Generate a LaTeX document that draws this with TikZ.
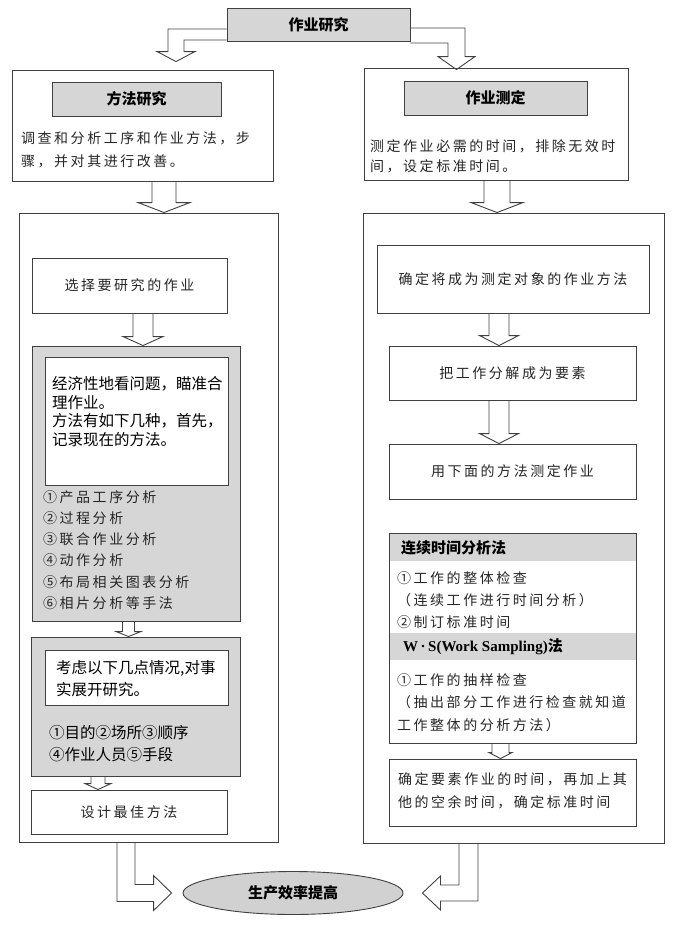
\documentclass[tikz,border=0pt]{standalone}
\usepackage{fontspec}
\newfontfamily\cjk{Noto Sans CJK SC}
\newfontfamily\cjksp[LetterSpace=18]{Noto Sans CJK SC}
\newfontfamily\lser{Liberation Serif}
\usetikzlibrary{calc,shapes.geometric}

% hollow block arrow straight down: from, to, shaft half width, head half width, head length
\newcommand{\blkdown}[5]{%
  \draw[blk] let \p1=(#1), \p2=(#2) in
    (\x2-#3,\y1) -- (\x2-#3,\y2+#5) -- (\x2-#4,\y2+#5) -- (\x2,\y2)
    -- (\x2+#4,\y2+#5) -- (\x2+#3,\y2+#5) -- (\x2+#3,\y1);
}

\begin{document}
\begin{tikzpicture}[x=1pt, y=-1pt,
    box/.style={draw=black!75, line width=0.9pt, fill=white, inner sep=0pt},
    graybox/.style={box, fill=black!16},
    hdtxt/.style={font=\cjk\bfseries\fontsize{15}{18}\selectfont},
    sptxt/.style={font=\cjksp\fontsize{14}{18}\selectfont, inner sep=0pt, text=black!85},
    bdtxt/.style={font=\cjk\fontsize{15.5}{18}\selectfont, inner sep=0pt},
    blk/.style={draw=black!75, line width=0.9pt}]

    \useasboundingbox (0,0) rectangle (680,935);

    % Top
    \node[graybox, hdtxt, minimum width=183pt, minimum height=33pt] (top) at (318.5,24.5) {作业研究};

    % Method study
    \node[box, minimum width=261pt, minimum height=111pt] (boxL1) at (142.5,125.5) {};
    \node[graybox, hdtxt, minimum width=169pt, minimum height=34pt] (hdL) at (136.5,99) {方法研究};
    \node[sptxt, anchor=west] (tL1) at (21,138) {调查和分析工序和作业方法，步};
    \node[sptxt, anchor=west] (tL2) at (21,161) {骤，并对其进行改善。};

    % Work measurement
    \node[box, minimum width=264pt, minimum height=112pt] (boxR1) at (496,124) {};
    \node[graybox, hdtxt, minimum width=183pt, minimum height=34pt] (hdR) at (495.5,98) {作业测定};
    \node[sptxt, anchor=west] (tR1) at (370,146) {测定作业必需的时间，排除无效时};
    \node[sptxt, anchor=west] (tR2) at (370,166) {间，设定标准时间。};

    % Big frames
    \node[box, fill=none, minimum width=259pt, minimum height=629pt] (boxL2) at (148.5,527.5) {};
    \node[box, fill=none, minimum width=301pt, minimum height=630pt] (boxR2) at (513.5,528) {};

    % Left column steps
    \node[box, sptxt, minimum width=195pt, minimum height=55pt] (selL) at (129.5,285.5) {选择要研究的作业};
    \node[graybox, minimum width=208pt, minimum height=275pt] (grayL1) at (136,483.5) {};
    \node[box, minimum width=183pt, minimum height=128pt] (inL1) at (136.5,421) {};
    \foreach \t [count=\i] in {经济性地看问题，瞄准合, 理作业。, 方法有如下几种，首先，, 记录现在的方法。}
        \node[bdtxt, anchor=west] (eco\i) at (52,{384+18.4*(\i-1)}) {\t};
    \foreach \t [count=\i] in {①产品工序分析, ②过程分析, ③联合作业分析, ④动作分析, ⑤布局相关图表分析, ⑥相片分析等手法}
        \node[sptxt, anchor=west] (anL\i) at (43,{497+21.2*(\i-1)}) {\t};

    \node[graybox, minimum width=209pt, minimum height=139pt] (grayL2) at (135.5,706.5) {};
    \node[box, minimum width=183pt, minimum height=55pt] (inL2) at (136.5,677.5) {};
    \node[bdtxt, anchor=west] (fac1) at (56,668) {考虑以下几点情况,对事};
    \node[bdtxt, anchor=west] (fac2) at (56,690) {实展开研究。};
    \node[bdtxt, anchor=west] (pt1) at (49,733) {①目的②场所③顺序};
    \node[bdtxt, anchor=west] (pt2) at (49,755) {④作业人员⑤手段};
    \node[box, sptxt, minimum width=196pt, minimum height=44pt] (desL) at (129,812) {设计最佳方法};

    % Right column steps
    \node[box, sptxt, minimum width=272pt, minimum height=68pt] (detR) at (513,279) {确定将成为测定对象的作业方法};
    \node[box, sptxt, minimum width=247pt, minimum height=54pt] (decR) at (512.5,373) {把工作分解成为要素};
    \node[box, sptxt, minimum width=247pt, minimum height=55pt] (useR) at (512.5,471.5) {用下面的方法测定作业};

    \node[fill=black!16, minimum width=247pt, minimum height=28pt, inner sep=0pt] (bandA) at (512.5,547) {};
    \node[fill=black!16, minimum width=247pt, minimum height=27pt, inner sep=0pt] (bandB) at (512.5,646.5) {};
    \node[box, fill=none, minimum width=247pt, minimum height=210pt] (methR) at (512.5,638) {};
    \node[hdtxt, anchor=west, inner sep=0pt] (contR) at (401,548) {连续时间分析法};
    \foreach \t/\yy [count=\i] in {①工作的整体检查/578, （连续工作进行时间分析）/600, ②制订标准时间/622}
        \node[sptxt, anchor=west] (conR\i) at (397,\yy) {\t};
    \node[anchor=west, inner sep=0pt, font=\lser\bfseries\fontsize{15}{18}\selectfont] (wsR) at (403,647) {W\,·\,S(Work Sampling){\cjk 法}};
    \foreach \t/\yy [count=\i] in {①工作的抽样检查/680, （抽出部分工作进行检查就知道/702, 工作整体的分析方法）/725}
        \node[sptxt, anchor=west] (wsR\i) at (397,\yy) {\t};

    \node[box, minimum width=247pt, minimum height=67pt] (finR) at (512.5,792.5) {};
    \node[sptxt, anchor=west] (fin1) at (398,779) {确定要素作业的时间，再加上其};
    \node[sptxt, anchor=west] (fin2) at (398,802) {他的空余时间，确定标准时间};

    % Result
    \node[ellipse, draw=black!75, line width=0.9pt, fill=black!18, minimum width=220pt, minimum height=43pt, inner sep=0pt, hdtxt] (goal) at (293,893) {生产效率提高};

    % Elbow arrows from the top box
    \draw[blk] let \p1=([yshift=-10pt]top.west), \p2=([xshift=33.5pt,yshift=8pt]boxL1.north) in
        (\x1,\y1+5.5pt) -- (\x2-8pt,\y1+5.5pt) -- (\x2-8pt,\y2+10pt) -- (\x2-19pt,\y2+10pt) -- (\x2,\y2)
        -- (\x2+19pt,\y2+10pt) -- (\x2+8pt,\y2+10pt) -- (\x2+8pt,\y1-5.5pt) -- (\x1,\y1-5.5pt);
    \draw[blk] let \p1=([yshift=-11pt]top.east), \p2=([xshift=-39.5pt,yshift=-2pt]boxR1.north) in
        (\x1,\y1+7.5pt) -- (\x2+8.5pt,\y1+7.5pt) -- (\x2+8.5pt,\y2+13pt) -- (\x2+18.5pt,\y2+13pt) -- (\x2,\y2)
        -- (\x2-18.5pt,\y2+13pt) -- (\x2-8.5pt,\y2+13pt) -- (\x2-8.5pt,\y1-7.5pt) -- (\x1,\y1-7.5pt);

    % Straight arrows
    \blkdown{[xshift=21.5pt]boxL1.south}{[xshift=15.5pt]boxL2.north}{12pt}{26pt}{10pt}
    \blkdown{[xshift=1pt]boxR1.south}{[xshift=-16.5pt]boxR2.north}{13pt}{26pt}{10pt}
    \blkdown{[xshift=13.5pt]selL.south}{[xshift=7pt]grayL1.north}{10pt}{20pt}{9pt}
    \blkdown{[xshift=-7.5pt]grayL1.south}{[xshift=-7pt]grayL2.north}{6pt}{12.5pt}{5pt}
    \blkdown{[xshift=-37.5pt]grayL2.south}{[xshift=-31pt]desL.north}{7pt}{13pt}{6pt}
    \blkdown{[xshift=-14pt]detR.south}{[xshift=-13.5pt]decR.north}{10pt}{19.5pt}{10pt}
    \blkdown{[xshift=-13.5pt]decR.south}{[xshift=-13.5pt]useR.north}{10pt}{19.5pt}{10pt}
    \blkdown{[xshift=-12pt]methR.south}{[xshift=-12pt]finR.north}{8.5pt}{11.5pt}{6pt}

    % Elbow arrows into the result
    \draw[blk] let \p1=([xshift=-22.5pt]boxL2.south), \p2=([xshift=-11pt]goal.west) in
        (\x1-9pt,\y1) -- (\x1-9pt,\y2-8.5pt) -- (\x2-18pt,\y2-8.5pt) -- (\x2-18pt,\y2-17.5pt) -- (\x2,\y2)
        -- (\x2-18pt,\y2+17.5pt) -- (\x2-18pt,\y2+8.5pt) -- (\x1+9pt,\y2+8.5pt) -- (\x1+9pt,\y1);
    \draw[blk] let \p1=([xshift=-45pt]boxR2.south), \p2=([xshift=19pt]goal.east) in
        (\x1+9.5pt,\y1) -- (\x1+9.5pt,\y2-8pt) -- (\x2+18pt,\y2-8pt) -- (\x2+18pt,\y2-17pt) -- (\x2,\y2)
        -- (\x2+18pt,\y2+17pt) -- (\x2+18pt,\y2+8pt) -- (\x1-9.5pt,\y2+8pt) -- (\x1-9.5pt,\y1);
\end{tikzpicture}
\end{document}
